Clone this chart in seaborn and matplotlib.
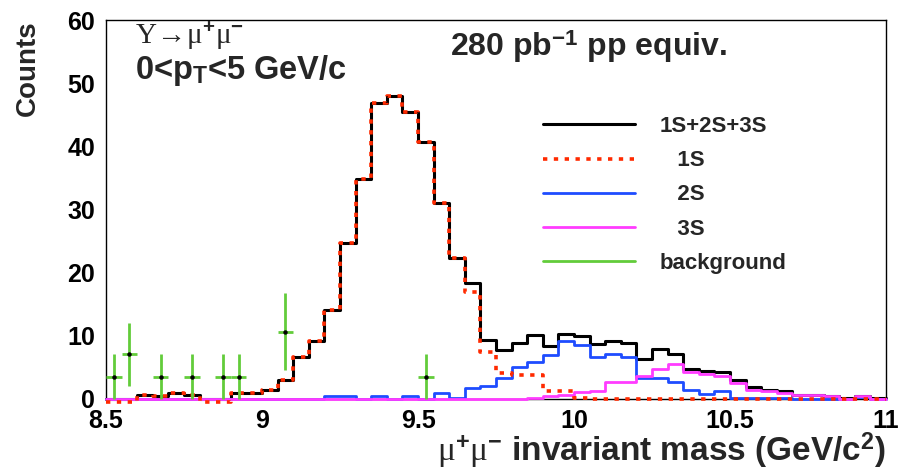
import numpy as np
import pandas as pd
import matplotlib
matplotlib.use("Agg")
import matplotlib.pyplot as plt
import seaborn as sns
from matplotlib.lines import Line2D
from matplotlib.ticker import MultipleLocator

# ---------------- data ----------------
bin_lo, bin_hi, n_bins = 8.5, 11.0, 50

total = [0.0, 0.0, 0.6, 0.5, 0.9, 0.6, 0.0, 0.0, 0.9, 1.0,
         1.4, 3.0, 6.7, 9.2, 14.1, 24.7, 34.9, 46.9, 48.0, 45.5,
         40.7, 31.0, 22.4, 18.3, 9.4, 7.8, 8.9, 10.1, 8.4, 10.3,
         9.9, 8.7, 9.2, 8.9, 6.4, 7.9, 7.2, 4.8, 4.4, 4.3,
         3.0, 1.95, 1.45, 1.2, 0.7, 0.7, 0.55, 0.1, 0.5, 0.1]

ups1s = [-0.4, -0.4, 0.6, 0.5, 0.9, 0.6, -0.4, -0.4, 0.9, 1.0,
         1.4, 3.0, 6.7, 9.2, 14.1, 24.7, 34.9, 46.9, 48.0, 45.5,
         40.7, 31.0, 22.4, 17.0, 7.4, 4.1, 3.8, 3.8, 1.3, 1.3,
         0.15, 0.0, 0.0, 0.0, 0.0, 0.0, 0.0, 0.0, 0.0, 0.0,
         0.0, 0.0, 0.0, 0.0, 0.0, 0.0, 0.0, 0.0, 0.0, 0.0]

ups2s = [0.0, 0.0, 0.0, 0.0, 0.0, 0.0, 0.0, 0.0, 0.0, 0.0,
         0.0, 0.0, 0.0, 0.0, 0.5, 0.5, 0.0, 0.5, 0.0, 0.5,
         0.0, 1.0, 0.1, 1.7, 2.1, 3.4, 5.0, 5.9, 7.0, 9.2,
         8.5, 6.6, 7.1, 6.6, 3.3, 3.3, 2.7, 1.4, 0.8, 1.2,
         0.2, 0.2, 0.2, 0.2, 0.0, 0.0, 0.0, 0.0, 0.3, 0.0]

ups3s = [0.0, 0.0, 0.0, 0.0, 0.0, 0.0, 0.0, 0.0, 0.0, 0.0,
         0.0, 0.0, 0.0, 0.0, 0.0, 0.0, 0.0, 0.0, 0.0, 0.0,
         0.0, 0.0, 0.0, 0.0, 0.0, 0.0, 0.0, 0.2, 0.5, 0.6,
         1.1, 1.3, 2.7, 2.7, 3.6, 4.8, 5.5, 4.2, 4.0, 3.7,
         2.6, 1.5, 1.3, 1.0, 0.7, 0.7, 0.55, 0.0, 0.5, 0.0]

bkg_mass = [8.525, 8.575, 8.675, 8.775, 8.875, 8.925, 9.075, 9.525]
bkg_counts = [3.55, 7.1, 3.55, 3.55, 3.55, 3.55, 10.65, 3.55]
bkg_err = [3.55, 5.0, 3.55, 3.55, 3.55, 3.55, 6.1, 3.55]

x_ticks = [8.5, 9.0, 9.5, 10.0, 10.5, 11.0]
x_tick_labels = ["8.5", "9", "9.5", "10", "10.5", "11"]
y_ticks = [0, 10, 20, 30, 40, 50, 60]
y_tick_labels = ["0", "10", "20", "30", "40", "50", "60"]

legend_labels = ["1S+2S+3S", "   1S", "   2S", "   3S", "background"]

# ---------------- style ----------------
sns.set_style("white")
plt.rcParams["font.family"] = ["Liberation Sans", "DejaVu Sans"]
plt.rcParams["mathtext.fontset"] = "custom"
plt.rcParams["mathtext.rm"] = "Liberation Serif:regular"
plt.rcParams["mathtext.it"] = "Liberation Serif:italic"
plt.rcParams["mathtext.bf"] = "Liberation Sans:bold"
plt.rcParams["mathtext.sf"] = "Liberation Sans:bold"

C_TOT = "#000000"
C_1S = "#ff2a00"
C_2S = "#1e4cff"
C_3S = "#ff3cff"
C_BKG = "#62cc3a"
RED_DASH = (0, (1.2, 1.8))

fig = plt.figure(figsize=(8.99, 4.72), dpi=100)
ax = fig.add_axes([106 / 899, 1 - 399 / 472, 780 / 899, 379 / 472])

centers = bin_lo + (np.arange(n_bins) + 0.5) * (bin_hi - bin_lo) / n_bins
df = pd.DataFrame({"mass": centers, "total": total, "s1": ups1s,
                   "s2": ups2s, "s3": ups3s})

def draw(col, color, lw, ls, z):
    sns.histplot(data=df, x="mass", weights=col, bins=n_bins,
                 binrange=(bin_lo, bin_hi), element="step",
                 fill=False, color=color, linewidth=lw, linestyle=ls,
                 ax=ax, zorder=z, clip_on=False)

draw("total", C_TOT, 2.2, "-", 2)
draw("s2", C_2S, 2.0, "-", 3)
draw("s3", C_3S, 2.0, "-", 4)
draw("s1", C_1S, 2.6, RED_DASH, 5)

ax.errorbar(bkg_mass, bkg_counts, yerr=bkg_err, xerr=0.025, fmt="o",
            ms=2.2, mfc="black", mec="black", ecolor=C_BKG, elinewidth=2.0,
            capsize=0, zorder=6, clip_on=False)

ax.set_xlim(bin_lo, bin_hi)
ax.set_ylim(0, 60)
ax.set_xticks(x_ticks)
ax.set_xticklabels(x_tick_labels)
ax.set_yticks(y_ticks)
ax.set_yticklabels(y_tick_labels)
ax.xaxis.set_minor_locator(MultipleLocator(0.1))
ax.yaxis.set_minor_locator(MultipleLocator(2))
ax.tick_params(which="both", direction="in", top=False, right=False,
               width=1.0, colors="black", labelsize=18)
ax.tick_params(which="major", length=8)
ax.tick_params(which="minor", length=4)
ax.tick_params(axis="x", which="major", pad=7)
ax.tick_params(axis="y", which="major", pad=8)
for lab in ax.get_xticklabels() + ax.get_yticklabels():
    lab.set_fontweight("bold")
for sp in ax.spines.values():
    sp.set_visible(True)
    sp.set_color("black")
    sp.set_linewidth(1.0)

ax.set_ylabel("Counts", fontsize=20, fontweight="bold", loc="top")
ax.yaxis.set_label_coords(-0.083, 1.0)
ax.set_xlabel(r"$\mathrm{\mu}^{\mathbf{+}}\mathrm{\mu}^{\mathbf{-}}$ invariant mass (GeV/c$^{\mathbf{2}}$)",
              fontsize=24, fontweight="bold", loc="right")
ax.xaxis.set_label_coords(1.0, -0.0845)

ax.text(0.037, 0.957, r"$\mathrm{\Upsilon\!\rightarrow\!\mu}^{\mathbf{+}}\mathrm{\mu}^{\mathbf{-}}$",
        transform=ax.transAxes, fontsize=21, ha="left", va="center")
ax.text(0.037, 0.866, r"0<p$_{\mathbf{T}}$<5 GeV/c", transform=ax.transAxes,
        fontsize=23.5, fontweight="bold", ha="left", va="center")
ax.text(0.441, 0.93, r"280 pb$^{\mathbf{-1}}$ pp equiv.", transform=ax.transAxes,
        fontsize=23, fontweight="bold", ha="left", va="center")

handles = [Line2D([], [], color=C_TOT, lw=2.2),
           Line2D([], [], color=C_1S, lw=2.6, linestyle=RED_DASH),
           Line2D([], [], color=C_2S, lw=2.0),
           Line2D([], [], color=C_3S, lw=2.0),
           Line2D([], [], color=C_BKG, lw=2.0)]
ax.legend(handles, legend_labels, loc="upper left", bbox_to_anchor=(0.56, 0.746),
          frameon=False, borderpad=0, borderaxespad=0, handlelength=4.15,
          handletextpad=1.1, labelspacing=0.59,
          prop={"size": 16, "weight": "bold"})

fig.savefig("out.png", dpi=100)
